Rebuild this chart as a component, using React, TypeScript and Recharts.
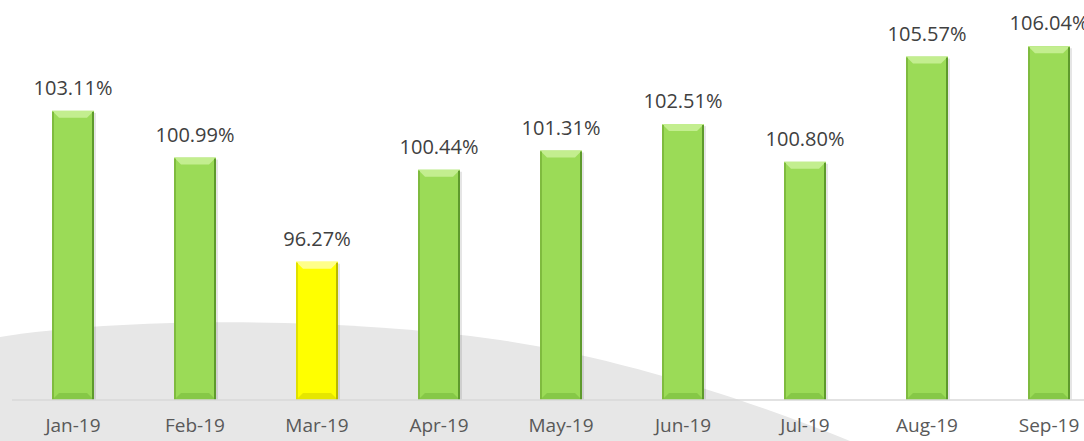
import { Bar, BarChart, LabelList, XAxis, YAxis } from "recharts";

const months = ["Jan-19", "Feb-19", "Mar-19", "Apr-19", "May-19", "Jun-19", "Jul-19", "Aug-19", "Sep-19"];
const ratios = [103.11, 100.99, 96.27, 100.44, 101.31, 102.51, 100.8, 105.57, 106.04];
const target = 100;

const data = months.map((m, i) => ({ month: m, ratio: ratios[i] }));

const FONT = "'Open Sans', 'Noto Sans', sans-serif";

// bevelled column like the office "soft edge" style
const BevelBar = (props: any) => {
  const { x, y, width, height, value } = props;
  if (!height || height <= 0) return null;
  const low = value < target;
  const c = low
    ? { body: "#ffff00", top: "#ffff8a", bottom: "#e6e600", left: "#e0e000", right: "#b9b900" }
    : { body: "#9bdb57", top: "#c3ee8f", bottom: "#86c847", left: "#7fbb3f", right: "#5e9a2c" };
  const b = 7;
  const s = 2;
  return (
    <g>
      <rect x={x + 2} y={y + 2} width={width} height={height} fill="#000" opacity={0.1} />
      <rect x={x} y={y} width={width} height={height} fill={c.body} />
      <polygon points={`${x},${y} ${x + width},${y} ${x + width - b},${y + b} ${x + b},${y + b}`} fill={c.top} />
      <polygon
        points={`${x},${y + height} ${x + width},${y + height} ${x + width - b},${y + height - b} ${x + b},${y + height - b}`}
        fill={c.bottom}
      />
      <rect x={x} y={y + 1} width={s} height={height - 1} fill={c.left} />
      <rect x={x + width - s} y={y + 1} width={s} height={height - 1} fill={c.right} />
    </g>
  );
};

export default function App() {
  return (
    <div style={{ position: "absolute", left: 0, top: 0, width: 1084, height: 441, overflow: "hidden", background: "#fff" }}>
      <svg width={1084} height={441} style={{ position: "absolute", left: 0, top: 0 }}>
        <path d="M0,337 C120,318 330,316 500,340 C620,358 740,397 850,441 L0,441 Z" fill="#e7e7e7" />
      </svg>
      <div style={{ position: "absolute", left: 0, top: 0 }}>
        <BarChart width={1110} height={441} data={data} margin={{ top: 3, right: 0, bottom: 0, left: 12 }}>
          <XAxis
            dataKey="month"
            height={41}
            tickLine={false}
            tickSize={0}
            tickMargin={19}
            axisLine={{ stroke: "#d9d9d9", strokeWidth: 1.5 }}
            tick={{ fill: "#595959", fontSize: 19, fontFamily: FONT }}
            interval={0}
          />
          <YAxis hide domain={[90, 108]} allowDataOverflow />
          <Bar dataKey="ratio" barSize={42} shape={BevelBar} isAnimationActive={false}>
            <LabelList
              dataKey="ratio"
              position="top"
              offset={16}
              formatter={(v: any) => `${Number(v).toFixed(2)}%`}
              style={{ fill: "#404040", fontSize: 20, fontFamily: FONT }}
            />
          </Bar>
        </BarChart>
      </div>
    </div>
  );
}
